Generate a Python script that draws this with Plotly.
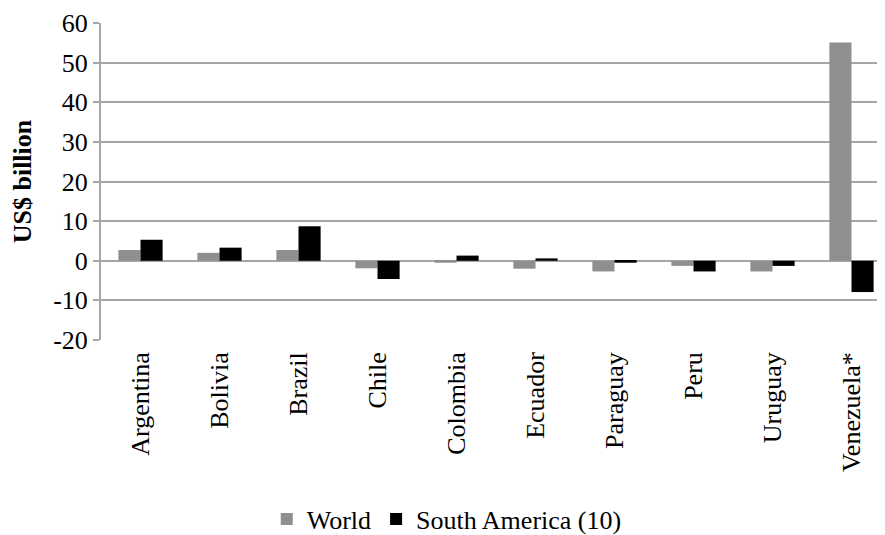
import plotly.graph_objects as go

countries = ["Argentina", "Bolivia", "Brazil", "Chile", "Colombia", "Ecuador",
             "Paraguay", "Peru", "Uruguay", "Venezuela*"]
world = [2.7, 2.0, 2.7, -1.9, -0.5, -2.0, -2.7, -1.3, -2.7, 55.1]
south_america = [5.3, 3.3, 8.7, -4.6, 1.3, 0.6, -0.5, -2.7, -1.3, -7.9]
y_ticks = [-20, -10, 0, 10, 20, 30, 40, 50, 60]
y_tick_labels = ["-20", "-10", "0", "10", "20", "30", "40", "50", "60"]

FONT = "Liberation Serif"
GRID = "#a6a6a6"

def f(size=26):
    return dict(family=FONT, size=size, color="black")

fig = go.Figure()
fig.add_trace(go.Bar(x=countries, y=world, name="World",
                     marker=dict(color="#8f8f8f", line=dict(width=0))))
fig.add_trace(go.Bar(x=countries, y=south_america, name="South America (10)",
                     marker=dict(color="#000000", line=dict(width=0))))

n = len(countries)
xr = [-0.5, n - 0.5 - 6 / 79]
fig.update_layout(
    width=877, height=527,
    margin=dict(l=93, r=0, t=15, b=195, autoexpand=False),
    paper_bgcolor="white", plot_bgcolor="white",
    font=f(),
    barmode="group", bargap=0.44, bargroupgap=0,
    showlegend=True,
    legend=dict(orientation="h", x=0.441, xanchor="center",
                yref="container", y=0.03, yanchor="middle",
                font=f(), tracegroupgap=0, bgcolor="rgba(0,0,0,0)"),
    xaxis=dict(type="category", range=xr, automargin=False,
               tickangle=-90, ticks="", showline=False, showgrid=False,
               tickfont=f(), ticklabelstandoff=6),
    yaxis=dict(range=[-20, 60], tickvals=y_ticks, ticktext=y_tick_labels,
               automargin=False, showgrid=True, gridcolor=GRID,
               gridwidth=1.5, zeroline=False, showline=True, linecolor=GRID,
               linewidth=2, ticks="outside", ticklen=6, tickcolor=GRID, tickwidth=2,
               tickfont=f(),
               title=dict(text="<b>US$ billion</b>", font=f(), standoff=16)),
    xaxis2=dict(overlaying="x", anchor="free", position=0.25, range=xr,
                tickvals=[i + 0.5 for i in range(n - 1)],
                ticks="outside", ticklen=6, tickcolor=GRID, tickwidth=2,
                showticklabels=False, showline=True, linecolor=GRID, linewidth=2,
                showgrid=False, zeroline=False, side="bottom"),
)

fig.write_html("out.html")
